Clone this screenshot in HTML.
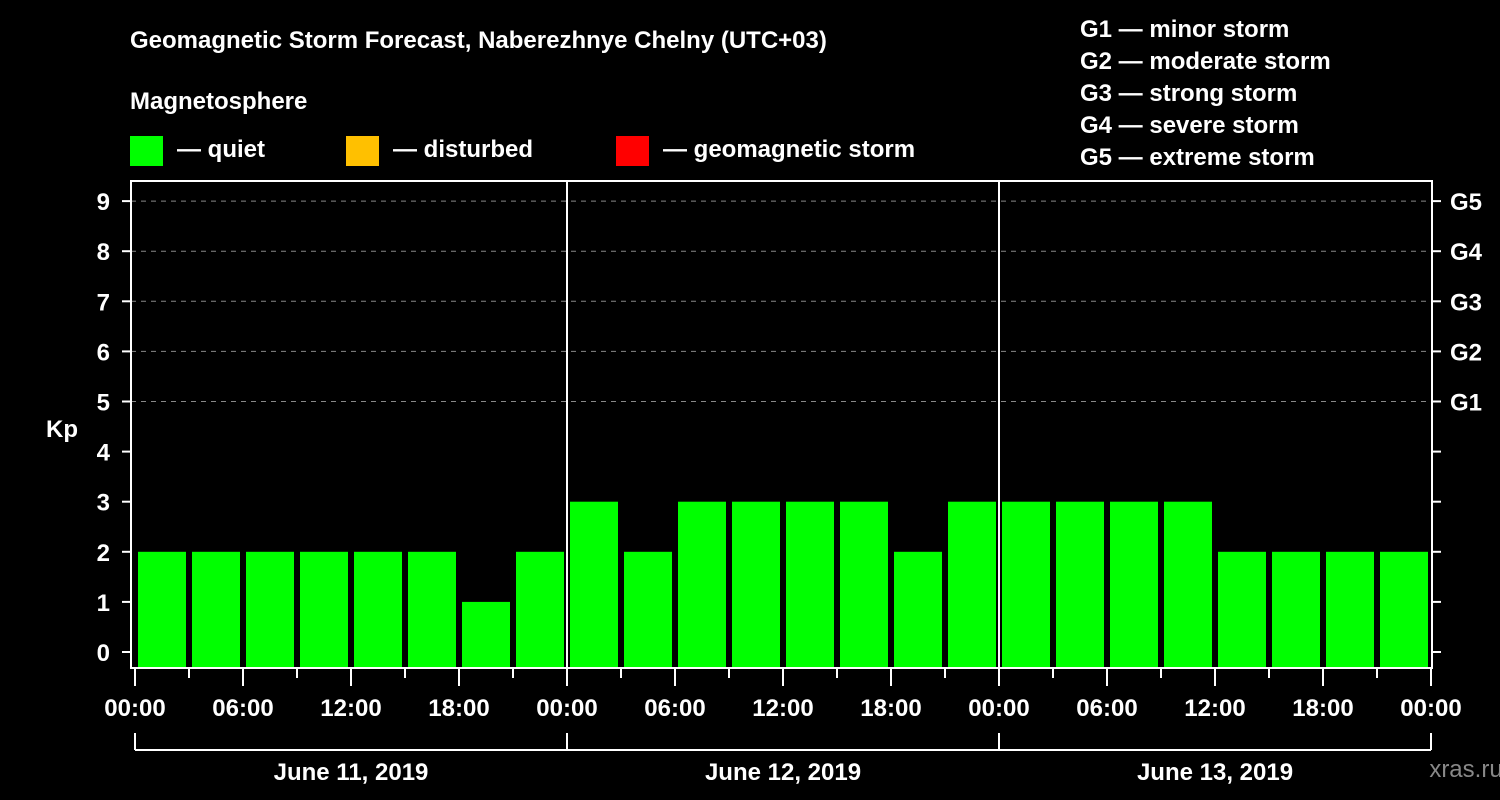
<!DOCTYPE html>
<html><head><meta charset="utf-8"><style>
html,body{margin:0;padding:0;background:#000;}
svg{display:block;font-family:"Liberation Sans",sans-serif;font-weight:bold;}
</style></head><body>
<svg width="1500" height="800" viewBox="0 0 1500 800">
<text x="130" y="48" font-size="24" fill="#fff">Geomagnetic Storm Forecast, Naberezhnye Chelny (UTC+03)</text>
<text x="130" y="109" font-size="24" fill="#fff">Magnetosphere</text>
<g><rect x="130" y="136" width="33" height="30" fill="#00ff00"/><text x="177" y="157" font-size="24" fill="#fff">— quiet</text></g>
<g><rect x="346" y="136" width="33" height="30" fill="#ffc000"/><text x="393" y="157" font-size="24" fill="#fff">— disturbed</text></g>
<g><rect x="616" y="136" width="33" height="30" fill="#ff0000"/><text x="663" y="157" font-size="24" fill="#fff">— geomagnetic storm</text></g>
<g font-size="24" fill="#fff">
<text x="1080" y="37">G1 — minor storm</text>
<text x="1080" y="69">G2 — moderate storm</text>
<text x="1080" y="101">G3 — strong storm</text>
<text x="1080" y="133">G4 — severe storm</text>
<text x="1080" y="165">G5 — extreme storm</text>
</g>
<text x="62" y="437" font-size="24" fill="#fff" text-anchor="middle">Kp</text>
<text x="1466" y="777" font-size="24" fill="#888" font-weight="normal" text-anchor="middle">xras.ru</text>
<g id="grid"></g><g id="bars"></g><g id="axes"></g>
<script>
const kpValues=[2,2,2,2,2,2,1,2, 3,2,3,3,3,3,2,3, 3,3,3,3,2,2,2,2];
const dayLabels=["June 11, 2019","June 12, 2019","June 13, 2019"];
const hourLabels=["00:00","06:00","12:00","18:00"];
const gLabels=["G1","G2","G3","G4","G5"];
const NS="http://www.w3.org/2000/svg";
const X0=135,PX_H=18,Y0=652,PX_K=50.1,LEFT=131,RIGHT=1432,TOP=181,BOT=668;
const xs=h=>X0+h*PX_H, ys=k=>Y0-k*PX_K;
function mk(t,a,p){const e=document.createElementNS(NS,t);for(const k in a)e.setAttribute(k,a[k]);p.appendChild(e);return e;}
const grid=document.getElementById('grid'),bars=document.getElementById('bars'),axes=document.getElementById('axes');
for(let k=5;k<=9;k++){
 const l=mk('line',{x1:LEFT,x2:RIGHT,y1:ys(k),y2:ys(k),stroke:'#888','stroke-dasharray':'5,5','stroke-width':1},grid);
 
 
}
kpValues.forEach((v,i)=>{
 const x=xs(i*3)+3,y=ys(v);
 const r=mk('rect',{x:x,y:y,width:48,height:BOT-y,fill:v>=5?'#ff0000':(v>=4?'#ffc000':'#00ff00')},bars);
 
 
});
mk('rect',{x:LEFT,y:TOP,width:RIGHT-LEFT,height:BOT-TOP,fill:'none',stroke:'#fff','stroke-width':2},axes);
for(let d=1;d<3;d++){mk('line',{x1:xs(d*24),x2:xs(d*24),y1:TOP,y2:BOT,stroke:'#fff','stroke-width':2},axes);}
for(let k=0;k<=9;k++){
 mk('line',{x1:122,x2:LEFT,y1:ys(k),y2:ys(k),stroke:'#fff','stroke-width':2},axes);
 mk('line',{x1:RIGHT,x2:1441,y1:ys(k),y2:ys(k),stroke:'#fff','stroke-width':2},axes);
 const t=mk('text',{x:110,y:ys(k)+9,'font-size':24,fill:'#fff','text-anchor':'end'},axes);t.textContent=k;
 
 
}
gLabels.forEach((g,i)=>{
 const t=mk('text',{x:1450,y:ys(5+i)+9,'font-size':24,fill:'#fff'},axes);t.textContent=g;
 
 
});
for(let h=0;h<=72;h+=3){
 const major=h%6===0;
 mk('line',{x1:xs(h),x2:xs(h),y1:BOT,y2:major?686:678,stroke:'#fff','stroke-width':2},axes);
 if(major){const t=mk('text',{x:xs(h),y:716,'font-size':24,fill:'#fff','text-anchor':'middle'},axes);t.textContent=hourLabels[(h/6)%4];
 
 }
}
mk('line',{x1:xs(0),x2:xs(72),y1:750,y2:750,stroke:'#fff','stroke-width':2},axes);
for(let d=0;d<=3;d++)mk('line',{x1:xs(d*24),x2:xs(d*24),y1:733,y2:750,stroke:'#fff','stroke-width':2},axes);
dayLabels.forEach((s,d)=>{
 const t=mk('text',{x:xs(d*24+12),y:780,'font-size':24,fill:'#fff','text-anchor':'middle'},axes);t.textContent=s;
 
 
});
</script>
</svg>
</body></html>
